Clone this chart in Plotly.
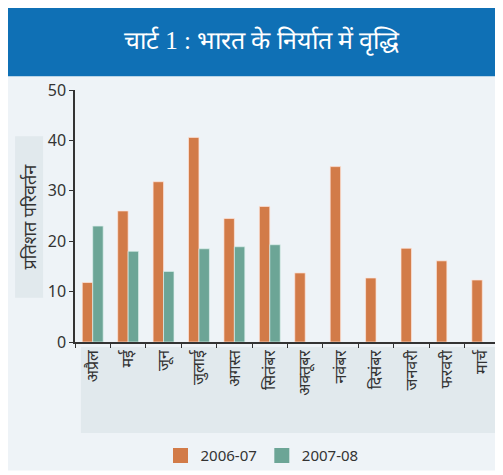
import plotly.graph_objects as go

months = ["अप्रैल", "मई", "जून", "जुलाई", "अगस्त", "सितंबर", "अक्तूबर", "नवंबर", "दिसंबर", "जनवरी", "फरवरी", "मार्च"]
s2006 = [11.8, 26.0, 31.8, 40.6, 24.5, 26.9, 13.7, 34.8, 12.7, 18.6, 16.1, 12.3]
s2007 = [23.0, 18.0, 14.0, 18.5, 18.9, 19.3, None, None, None, None, None, None]
series_names = ["2006-07", "2007-08"]
yticks = [0, 10, 20, 30, 40, 50]

orange = "#d27b48"
teal = "#6ca596"
font_fam = "Noto Sans, Open Sans, sans-serif"

fig = go.Figure()
fig.add_bar(x=months, y=s2006, name=series_names[0], showlegend=False,
            marker=dict(color=orange, line=dict(color="rgba(255,230,220,0.7)", width=1)))
fig.add_bar(x=months, y=s2007, name=series_names[1], showlegend=False,
            marker=dict(color=teal, line=dict(color="rgba(220,240,235,0.7)", width=1)))
# legend entries with larger square swatches
for nm, col in zip(series_names, [orange, teal]):
    fig.add_scatter(x=[None], y=[None], mode="markers", name=nm,
                    marker=dict(symbol="square", size=15, color=col))

fig.update_layout(
    width=495, height=467,
    margin=dict(l=67, r=3, t=82, b=130),
    paper_bgcolor="white",
    plot_bgcolor="rgba(0,0,0,0)",
    barmode="group",
    bargap=0.41,
    bargroupgap=0,
    font=dict(family=font_fam, color="#333333"),
    showlegend=True,
    legend=dict(orientation="h", x=(262 - 75) / 425, xanchor="center", y=(345 - 460) / 255, yanchor="middle",
                font=dict(size=15, color="#333333"), bgcolor="rgba(0,0,0,0)",
                itemwidth=30, traceorder="normal"),
    xaxis=dict(showline=True, linecolor="#333333", linewidth=1.5, ticks="outside", ticklen=4,
               tickcolor="#333333", tickson="boundaries", tickangle=-90, tickfont=dict(size=16, color="#333333"),
               showgrid=False, fixedrange=True),
    yaxis=dict(range=[0, 50], tickvals=yticks, showline=True, linecolor="#333333", linewidth=1.5,
               ticks="outside", ticklen=4, tickcolor="#333333", tickfont=dict(size=16, color="#333333"),
               showgrid=False, zeroline=False, fixedrange=True),
    shapes=[
        dict(type="rect", xref="paper", yref="paper", x0=-0.16, x1=1.007, y0=-0.51, y1=1.055,
             fillcolor="#eef3f7", line=dict(width=0), layer="below"),
        dict(type="rect", xref="paper", yref="paper", x0=-0.16, x1=1.007, y0=1.055, y1=1.337,
             fillcolor="#0f70b5", line=dict(width=0), layer="below"),
        dict(type="rect", xref="paper", yref="paper", x0=0.014, x1=1.0, y0=-0.02, y1=-0.361,
             fillcolor="#e1e9ed", line=dict(width=0), layer="below"),
        dict(type="rect", xref="paper", yref="paper", x0=-0.141, x1=-0.075, y0=0.176, y1=0.816,
             fillcolor="#e1e9ed", line=dict(width=0), layer="below"),
    ],
    annotations=[
        dict(text="चार्ट 1 : भारत के निर्यात में वृद्धि", xref="paper", yref="paper",
             x=(262 - 75) / 425, y=(345 - 40) / 255, xanchor="center", yanchor="middle",
             showarrow=False, font=dict(size=25, color="white", family="Liberation Serif, Noto Serif, serif")),
        dict(text="प्रतिशत परिवर्तन", xref="paper", yref="paper", textangle=-90,
             x=(29 - 75) / 425, y=(345 - 218) / 255, xanchor="center", yanchor="middle",
             showarrow=False, font=dict(size=18, color="#333333")),
    ],
)

fig.write_html("out.html")
